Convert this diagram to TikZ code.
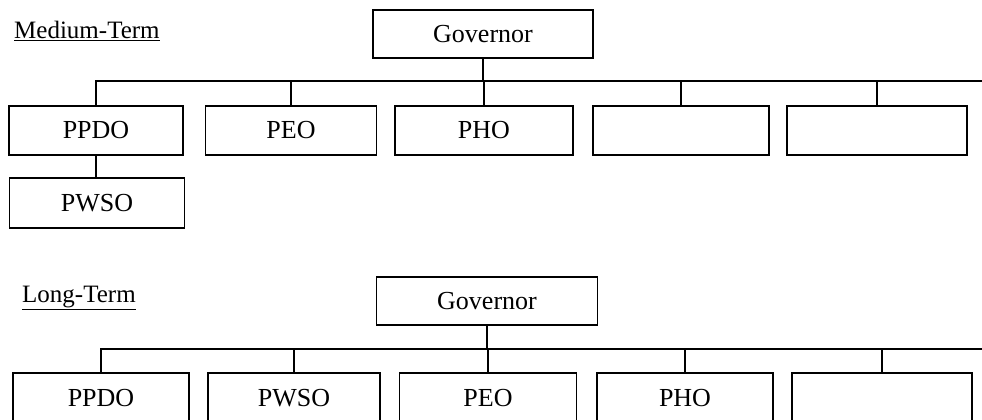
\documentclass[tikz,border=0pt]{standalone}
\usepackage{fontspec}
\setmainfont{Liberation Serif}
\begin{document}
\begin{tikzpicture}[x=1pt,y=-1pt,
  orgbox/.style={draw=black, line width=1.8pt, inner sep=0pt, minimum height=49pt,
    font=\fontsize{26}{26}\selectfont},
  conn/.style={draw=black, line width=1.8pt},
  ttl/.style={anchor=base west, inner sep=0pt, font=\fontsize{25}{25}\selectfont}]
\path[use as bounding box, clip] (0,0) rectangle (982,420);
\fill[white] (0,0) rectangle (982,420);
% ---------- Medium-Term ----------
\node[ttl] (mt) at (14,39) {\underline{Medium-Term}};
\node[orgbox, minimum width=220pt, minimum height=48pt] (g1) at (483,34) {Governor};
\node[orgbox, minimum width=174pt] (a1) at (96,130.5) {PPDO};
\node[orgbox, minimum width=171pt] (a2) at (291,130.5) {PEO};
\node[orgbox, minimum width=178pt] (a3) at (484,130.5) {PHO};
\node[orgbox, minimum width=176pt] (a4) at (681,130.5) {};
\node[orgbox, minimum width=180pt] (a5) at (877,130.5) {};
\node[orgbox, minimum width=175pt, minimum height=50pt] (a6) at (97,203) {PWSO};
\coordinate (bus1) at (982,81);
\draw[conn] (g1.south) -- (g1.south |- bus1);
\draw[conn] (a1.north) -- (a1.north |- bus1) -- (bus1);
\draw[conn] (a2.north) -- (a2.north |- bus1);
\draw[conn] (a3.north) -- (a3.north |- bus1);
\draw[conn] (a4.north) -- (a4.north |- bus1);
\draw[conn] (a5.north) -- (a5.north |- bus1);
\draw[conn] (a1.south) -- (a1.south |- a6.north);
% ---------- Long-Term ----------
\node[ttl] (lt) at (22,302) {\underline{Long-Term}};
\node[orgbox, minimum width=221pt, minimum height=48pt] (g2) at (487,301) {Governor};
\node[orgbox, minimum width=176pt, minimum height=50pt] (b1) at (101,398) {PPDO};
\node[orgbox, minimum width=172pt, minimum height=50pt] (b2) at (294,398) {PWSO};
\node[orgbox, minimum width=177pt, minimum height=50pt] (b3) at (488,398) {PEO};
\node[orgbox, minimum width=176pt, minimum height=50pt] (b4) at (685,398) {PHO};
\node[orgbox, minimum width=180pt, minimum height=50pt] (b5) at (882,398) {};
\coordinate (bus2) at (982,349);
\draw[conn] (g2.south) -- (g2.south |- bus2);
\draw[conn] (b1.north) -- (b1.north |- bus2) -- (bus2);
\draw[conn] (b2.north) -- (b2.north |- bus2);
\draw[conn] (b3.north) -- (b3.north |- bus2);
\draw[conn] (b4.north) -- (b4.north |- bus2);
\draw[conn] (b5.north) -- (b5.north |- bus2);
\end{tikzpicture}
\end{document}
